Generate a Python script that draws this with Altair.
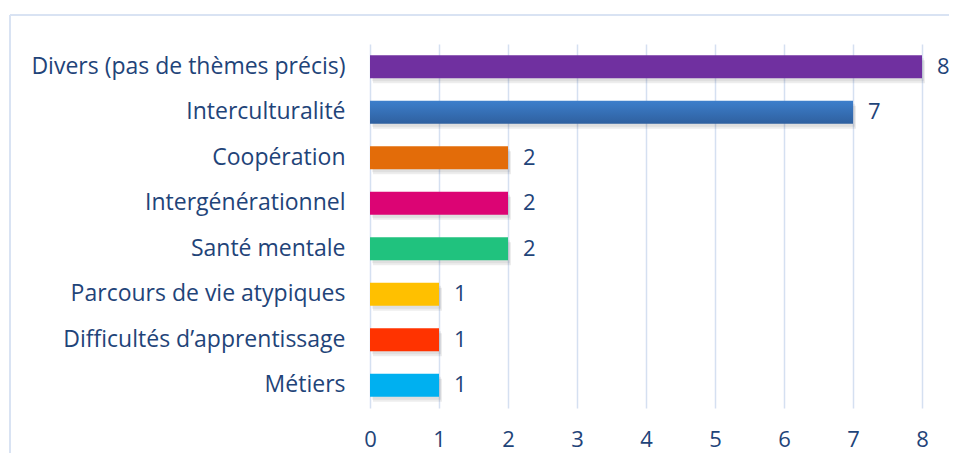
import altair as alt
import pandas as pd

categories = [
    "Divers (pas de thèmes précis)",
    "Interculturalité",
    "Coopération",
    "Intergénérationnel",
    "Santé mentale",
    "Parcours de vie atypiques",
    "Difficultés d’apprentissage",
    "Métiers",
]
values = [8, 7, 2, 2, 2, 1, 1, 1]
colors = ["#7030A0", "#3674BF", "#E36C09", "#DC0474", "#20C27E", "#FFC000", "#FF3300", "#00B0F0"]

df = pd.DataFrame({"cat": categories, "val": values, "col": colors})

W, H = 552, 364
FONT = "Open Sans"
TXT = "#1F4479"
GRID = "#D5E0F1"
FS_CAT = 23
FS_NUM = 22

x_enc = alt.X("val:Q", scale=alt.Scale(domain=[0, 8], nice=False),
              axis=alt.Axis(values=list(range(0, 9)), title=None, grid=True, gridColor=GRID,
                            gridWidth=1.5, domain=False, ticks=False, labelPadding=21,
                            labelFlush=False,
                            labelFont=FONT, labelFontSize=FS_NUM, labelColor=TXT, format="d"))
y_enc = alt.Y("cat:N", sort=categories,
              scale=alt.Scale(paddingInner=0.49, paddingOuter=0.245),
              axis=alt.Axis(title=None, domain=False, ticks=False, labelPadding=25,
                            labelFont=FONT, labelFontSize=FS_CAT, labelColor=TXT, labelLimit=400))
y_plain = alt.Y("cat:N", sort=categories)

base = alt.Chart(df)

shadow1 = base.mark_bar(color="#000000", opacity=0.07, xOffset=3, yOffset=5).encode(x=x_enc, y=y_enc)
shadow2 = base.mark_bar(color="#000000", opacity=0.06, xOffset=2, yOffset=3).encode(x="val:Q", y=y_plain)
bars = base.transform_filter(alt.datum.cat != "Interculturalité").mark_bar().encode(
    x="val:Q", y=y_plain,
    color=alt.Color("col:N", scale=None),
)
blue_bar = base.transform_filter(alt.datum.cat == "Interculturalité").mark_bar(
    color=alt.Gradient(gradient="linear", x1=0, y1=0, x2=0, y2=1,
                       stops=[alt.GradientStop(color="#3D7FCC", offset=0),
                              alt.GradientStop(color="#2F609F", offset=1)])
).encode(x="val:Q", y=y_plain)
labels = base.mark_text(align="left", baseline="middle", dx=15, font=FONT, fontSize=FS_NUM, color=TXT).encode(
    x="val:Q", y=y_plain, text="val:Q"
)

frame_top = base.mark_rule(color="#D9E3F3", strokeWidth=1.5).encode(
    x=alt.value(-360), x2=alt.value(W + 60), y=alt.value(-29)
)
frame_left = base.mark_rule(color="#D9E3F3", strokeWidth=1.5).encode(
    x=alt.value(-360), y=alt.value(-29), y2=alt.value(H + 60)
)

chart = alt.layer(shadow1, shadow2, bars, blue_bar, labels, frame_top, frame_left).properties(
    width=W, height=H,
    autosize=alt.AutoSizeParams(type="none"),
    padding={"left": 362, "top": 36, "right": 941 - 362 - W, "bottom": 45},
    background="white",
).configure_view(stroke=None)

chart.save("out.html", embed_options={"renderer": "svg", "actions": False})
